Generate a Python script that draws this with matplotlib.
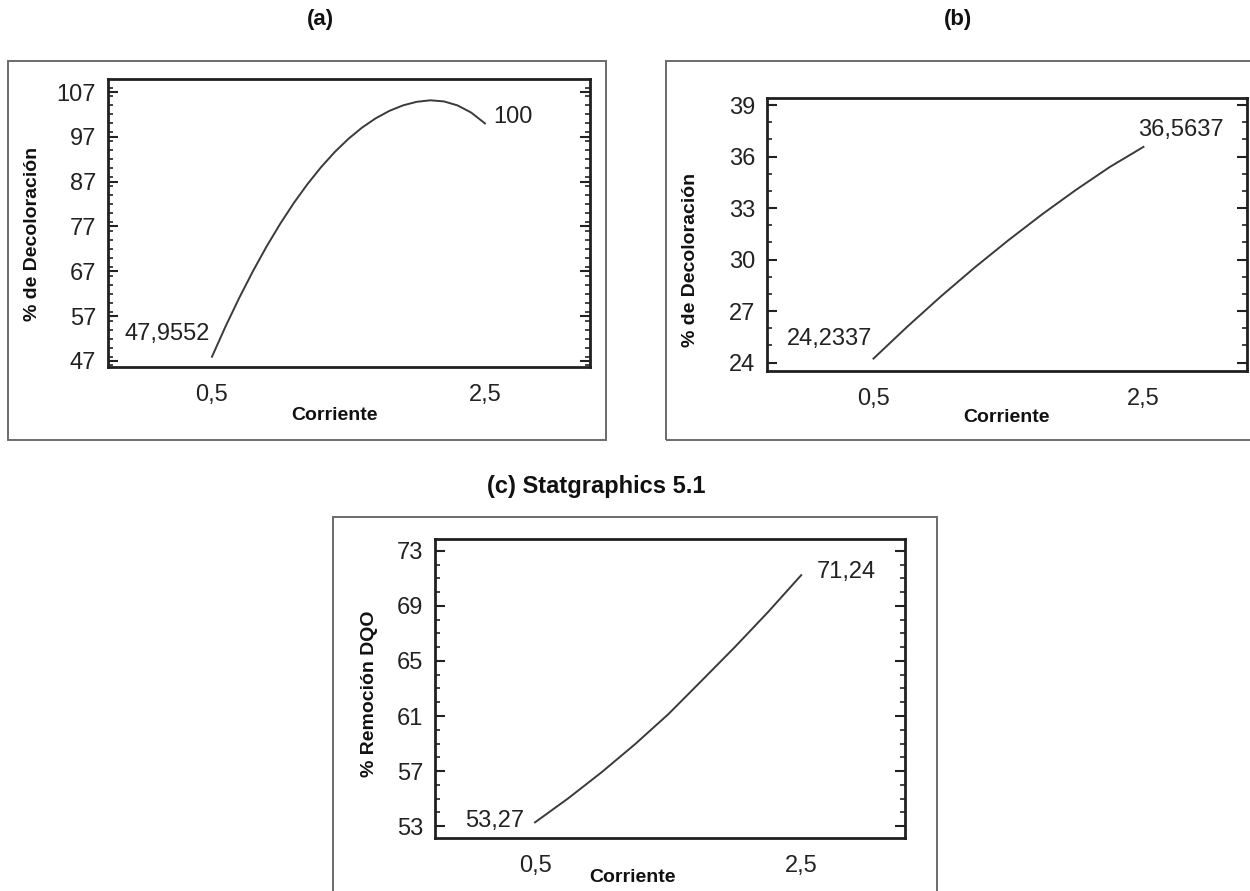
import matplotlib
matplotlib.use("Agg")
import matplotlib.pyplot as plt
from matplotlib.patches import Rectangle
from matplotlib.ticker import MultipleLocator, FixedLocator

# ---- data -------------------------------------------------------------
corriente_a = [0.5, 0.6, 0.7, 0.8, 0.9, 1.0, 1.1, 1.2, 1.3, 1.4, 1.5,
               1.6, 1.7, 1.8, 1.9, 2.0, 2.1, 2.2, 2.3, 2.4, 2.5]
decolor_a = [47.9552, 54.75, 61.10, 67.03, 72.54, 77.61, 82.26, 86.47, 90.26,
             93.63, 96.56, 99.07, 101.14, 102.79, 104.02, 104.81, 105.15,
             104.9, 104.0, 102.4, 100.0]

corriente_b = [0.5, 0.75, 1.0, 1.25, 1.5, 1.75, 2.0, 2.25, 2.5]
decolor_b = [24.2337, 26.09, 27.86, 29.54, 31.13, 32.64, 34.06, 35.39, 36.5637]

corriente_c = [0.5, 0.75, 1.0, 1.25, 1.5, 1.75, 2.0, 2.25, 2.5]
remocion_c = [53.27, 55.02, 56.91, 58.94, 61.12, 63.55, 66.0, 68.55, 71.24]

x_ticks = [0.5, 2.5]
x_ticklabels = ["0,5", "2,5"]
yticks_a = [47, 57, 67, 77, 87, 97, 107]
yticks_b = [24, 27, 30, 33, 36, 39]
yticks_c = [53, 57, 61, 65, 69, 73]

# ---- figure -----------------------------------------------------------
W, H = 1250, 891
fig = plt.figure(figsize=(W / 100, H / 100), dpi=100)
fig.patch.set_facecolor("white")

NUM_FONT = "Liberation Sans"
LAB_FONT = ["Liberation Sans", "DejaVu Sans"]
LINE_COL = "#3a3a3a"
SPINE_COL = "#202020"


def fx(px):
    return px / W


def fy(py):
    return 1 - py / H


def frame(x0, y0, x1, y1):
    fig.patches.append(Rectangle((fx(x0), fy(y1)), fx(x1) - fx(x0), fy(y0) - fy(y1),
                                 transform=fig.transFigure, fill=False,
                                 edgecolor="#6b6b6b", linewidth=1.4))


def panel(box, xlim, ylim, yticks, yminor, x, y):
    l, t, r, b = box
    ax = fig.add_axes([fx(l), fy(b), fx(r) - fx(l), fy(t) - fy(b)])
    ax.plot(x, y, color=LINE_COL, linewidth=1.4, solid_joinstyle="round")
    ax.set_xlim(*xlim)
    ax.set_ylim(*ylim)
    for s in ax.spines.values():
        s.set_linewidth(2.0)
        s.set_color(SPINE_COL)
    ax.xaxis.set_major_locator(FixedLocator(x_ticks))
    ax.set_xticklabels(x_ticklabels, fontfamily=NUM_FONT, fontsize=17)
    ax.tick_params(axis="x", length=0, pad=12, colors="#222222")
    ax.set_yticks(yticks)
    ax.set_yticklabels([str(v) for v in yticks], fontfamily=NUM_FONT, fontsize=17)
    ax.yaxis.set_minor_locator(MultipleLocator(yminor))
    ax.tick_params(axis="y", which="major", direction="in", length=7.5, width=1.5,
                   left=True, right=True, pad=8.5, colors="#222222")
    ax.tick_params(axis="y", which="minor", direction="in", length=3.5, width=1.2,
                   left=True, right=True, colors="#222222")
    return ax


def label(px, py, text, size=14, rotation=0):
    fig.text(fx(px), fy(py), text, ha="center", va="center", rotation=rotation,
             fontsize=size, fontweight="bold", family=LAB_FONT, color="#111111")


def note(ax, x, y, text, ha):
    ax.text(x, y, text, ha=ha, va="center", fontsize=17, family=NUM_FONT,
            color="#222222")


# (a)
frame(8, 61, 606, 440)
ax_a = panel((108, 79, 590, 367), (-0.262, 3.27), (45.66, 109.9), yticks_a, 2,
             corriente_a, decolor_a)
note(ax_a, 0.485, 53.0, "47,9552", "right")
note(ax_a, 2.56, 101.4, "100", "left")
label(320, 19, "(a)", size=16)
label(335, 416, "Corriente")
label(33, 234, "% de Decoloración", rotation=90)

# (b)
frame(666, 61, 1262, 440)
ax_b = panel((767, 98, 1247, 371), (-0.289, 3.267), (23.51, 39.41), yticks_b, 1,
             corriente_b, decolor_b)
note(ax_b, 0.49, 25.40, "24,2337", "right")
note(ax_b, 2.46, 37.54, "36,5637", "left")
label(958, 19, "(b)", size=16)
label(1007, 418, "Corriente")
label(690, 260, "% de Decoloración", rotation=90)

# (c)
frame(333, 517, 937, 900)
ax_c = panel((435, 539, 905, 838), (-0.252, 3.28), (52.13, 73.87), yticks_c, 1,
             corriente_c, remocion_c)
note(ax_c, 0.417, 53.36, "53,27", "right")
note(ax_c, 2.62, 71.47, "71,24", "left")
label(596, 487, "(c) Statgraphics 5.1", size=17)
label(633, 878, "Corriente")
label(370, 694, "% Remoción DQO", rotation=90)

fig.savefig("out.png", dpi=100, facecolor="white")
